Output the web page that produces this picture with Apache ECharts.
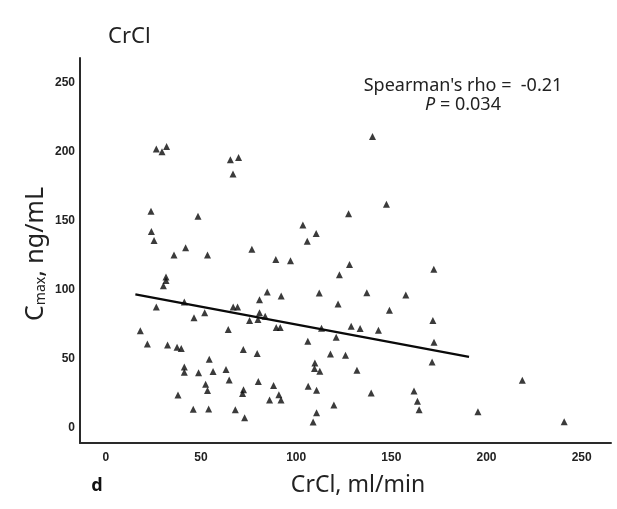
<!DOCTYPE html>
<html>
<head>
<meta charset="utf-8">
<script src="https://cdn.jsdelivr.net/npm/echarts@6/dist/echarts.min.js"></script>
<style>
  html, body { margin: 0; padding: 0; background: #fff; }
  #chart { width: 617px; height: 509px; }
</style>
</head>
<body>
<div id="chart"></div>
<script>
// ---- data ----
const crcl = [26.5, 29.5, 31.9, 65.4, 69.7, 66.8, 23.7, 48.4, 23.9, 25.3, 41.9, 76.7, 35.8, 53.4, 31.6, 31.6, 30.2, 26.5, 41.2, 66.9,
  69.2, 46.3, 51.9, 80.7, 80.7, 75.5, 79.9, 18.1, 64.3, 21.8, 32.4, 37.4, 39.6, 72.2, 79.5, 54.3, 41.2, 41.2, 48.7, 56.3,
  63.1, 64.8, 52.4, 53.4, 80.1, 72.3, 71.8, 37.9, 45.9, 54.0, 68.0, 72.9, 140.1, 147.4, 127.5, 103.5, 110.5, 105.8, 89.3, 97.0,
  128.0, 122.7, 172.3, 84.8, 92.1, 112.1, 137.1, 157.6, 122.0, 149.0, 83.7, 89.5, 91.6, 113.3, 128.9, 133.6, 143.2, 121.0, 171.8, 172.4,
  106.1, 118.0, 125.9, 171.4, 109.8, 109.6, 112.4, 131.9, 88.1, 106.3, 110.7, 90.9, 86.0, 92.0, 139.4, 161.9, 163.7, 164.6, 119.8, 110.7,
  108.9, 218.8, 195.5, 240.8];
const cmax = [201.7, 199.8, 203.6, 194.0, 195.7, 183.7, 156.6, 153.0, 142.0, 135.5, 130.2, 129.2, 124.9, 124.9, 109.0, 106.6, 102.7, 87.3, 90.9, 87.3,
  87.3, 79.6, 83.2, 92.6, 83.2, 77.5, 78.2, 70.2, 71.0, 60.5, 59.8, 58.2, 57.2, 56.5, 53.6, 49.5, 43.9, 40.1, 39.6, 40.6,
  42.1, 34.5, 31.4, 26.9, 33.4, 27.3, 24.7, 23.5, 13.2, 13.4, 12.9, 7.1, 210.8, 161.7, 154.8, 146.8, 140.5, 135.0, 121.7, 120.8,
  118.1, 110.7, 114.7, 98.1, 95.2, 97.4, 97.7, 96.0, 89.5, 84.9, 80.6, 72.4, 72.4, 71.9, 73.3, 71.7, 70.4, 65.4, 77.5, 61.8,
  62.5, 53.3, 52.4, 47.5, 46.8, 42.8, 40.8, 41.5, 30.5, 30.0, 27.1, 23.7, 19.9, 19.9, 25.1, 26.4, 19.1, 12.9, 16.3, 10.7,
  4.0, 34.3, 11.4, 4.2];
const fitX = [15.5, 190.8];
const fitY = [96.5, 51.2];
const xTicks = [0, 50, 100, 150, 200, 250];
const yTicks = [0, 50, 100, 150, 200, 250];

const points = crcl.map((x, i) => [x, cmax[i]]);
const fitLine = fitX.map((x, i) => [x, fitY[i]]);

const tickFont = '"Liberation Sans Narrow", "Liberation Sans", Arial, sans-serif';
const textFont = '"Noto Sans", "Liberation Sans", Arial, sans-serif';

const chart = echarts.init(document.getElementById('chart'), null, { renderer: 'canvas' });
chart.setOption({
  animation: false,
  backgroundColor: '#ffffff',
  title: {
    text: 'CrCl',
    left: 103,
    top: 21,
    textStyle: { fontFamily: textFont, fontSize: 22, fontWeight: 'normal', color: '#222' }
  },
  grid: { left: 80, right: 6, top: 58, bottom: 66 },
  xAxis: {
    type: 'value',
    min: -13.6,
    max: 265.4,
    axisLine: { show: true, onZero: false, lineStyle: { color: '#2a2a2a', width: 2 } },
    axisTick: { show: false },
    splitLine: { show: false },
    axisLabel: {
      customValues: xTicks,
      margin: 9,
      fontFamily: tickFont,
      fontWeight: 'bold',
      fontSize: 12,
      color: '#222'
    }
  },
  yAxis: {
    type: 'value',
    min: -11.2,
    max: 267.7,
    axisLine: { show: true, onZero: false, lineStyle: { color: '#2a2a2a', width: 2 } },
    axisTick: { show: false },
    splitLine: { show: false },
    axisLabel: {
      customValues: yTicks,
      margin: 5,
      fontFamily: tickFont,
      fontWeight: 'bold',
      fontSize: 12,
      color: '#222'
    }
  },
  graphic: [
    {
      type: 'text', x: 358, y: 485,
      style: { text: 'CrCl, ml/min', font: '23px ' + textFont, fill: '#222', textAlign: 'center', textVerticalAlign: 'middle' }
    },
    {
      type: 'text', x: 97, y: 486,
      style: { text: 'd', font: 'bold 18px ' + textFont, fill: '#111', textAlign: 'center', textVerticalAlign: 'middle' }
    },
    {
      type: 'text', x: 36, y: 254, rotation: Math.PI / 2,
      style: {
        text: '{a|C}{b|max}{a|, ng/mL}',
        textAlign: 'center', textVerticalAlign: 'middle',
        rich: {
          a: { fontFamily: textFont, fontSize: 25, fill: '#222', color: '#222' },
          b: { fontFamily: textFont, fontSize: 14, fill: '#222', color: '#222', verticalAlign: 'bottom', padding: [9, 0, 0, 0] }
        }
      }
    },
    {
      type: 'text', x: 463, y: 86,
      style: { text: "Spearman's rho =  -0.21", font: '18px ' + textFont, fill: '#222', textAlign: 'center', textVerticalAlign: 'middle' }
    },
    {
      type: 'text', x: 463, y: 105,
      style: {
        text: '{i|P} = 0.034',
        textAlign: 'center', textVerticalAlign: 'middle',
        rich: {
          i: { fontFamily: textFont, fontSize: 18, fontStyle: 'italic', fill: '#222', color: '#222' }
        },
        font: '18px ' + textFont, fill: '#222'
      }
    }
  ],
  series: [
    {
      type: 'scatter',
      data: points,
      symbol: 'triangle',
      symbolSize: 7,
      itemStyle: { color: '#0a0a0a' },
      z: 3
    },
    {
      type: 'line',
      data: fitLine,
      symbol: 'none',
      lineStyle: { color: '#0a0a0a', width: 2.2 },
      z: 2
    }
  ]
});
</script>
</body>
</html>
